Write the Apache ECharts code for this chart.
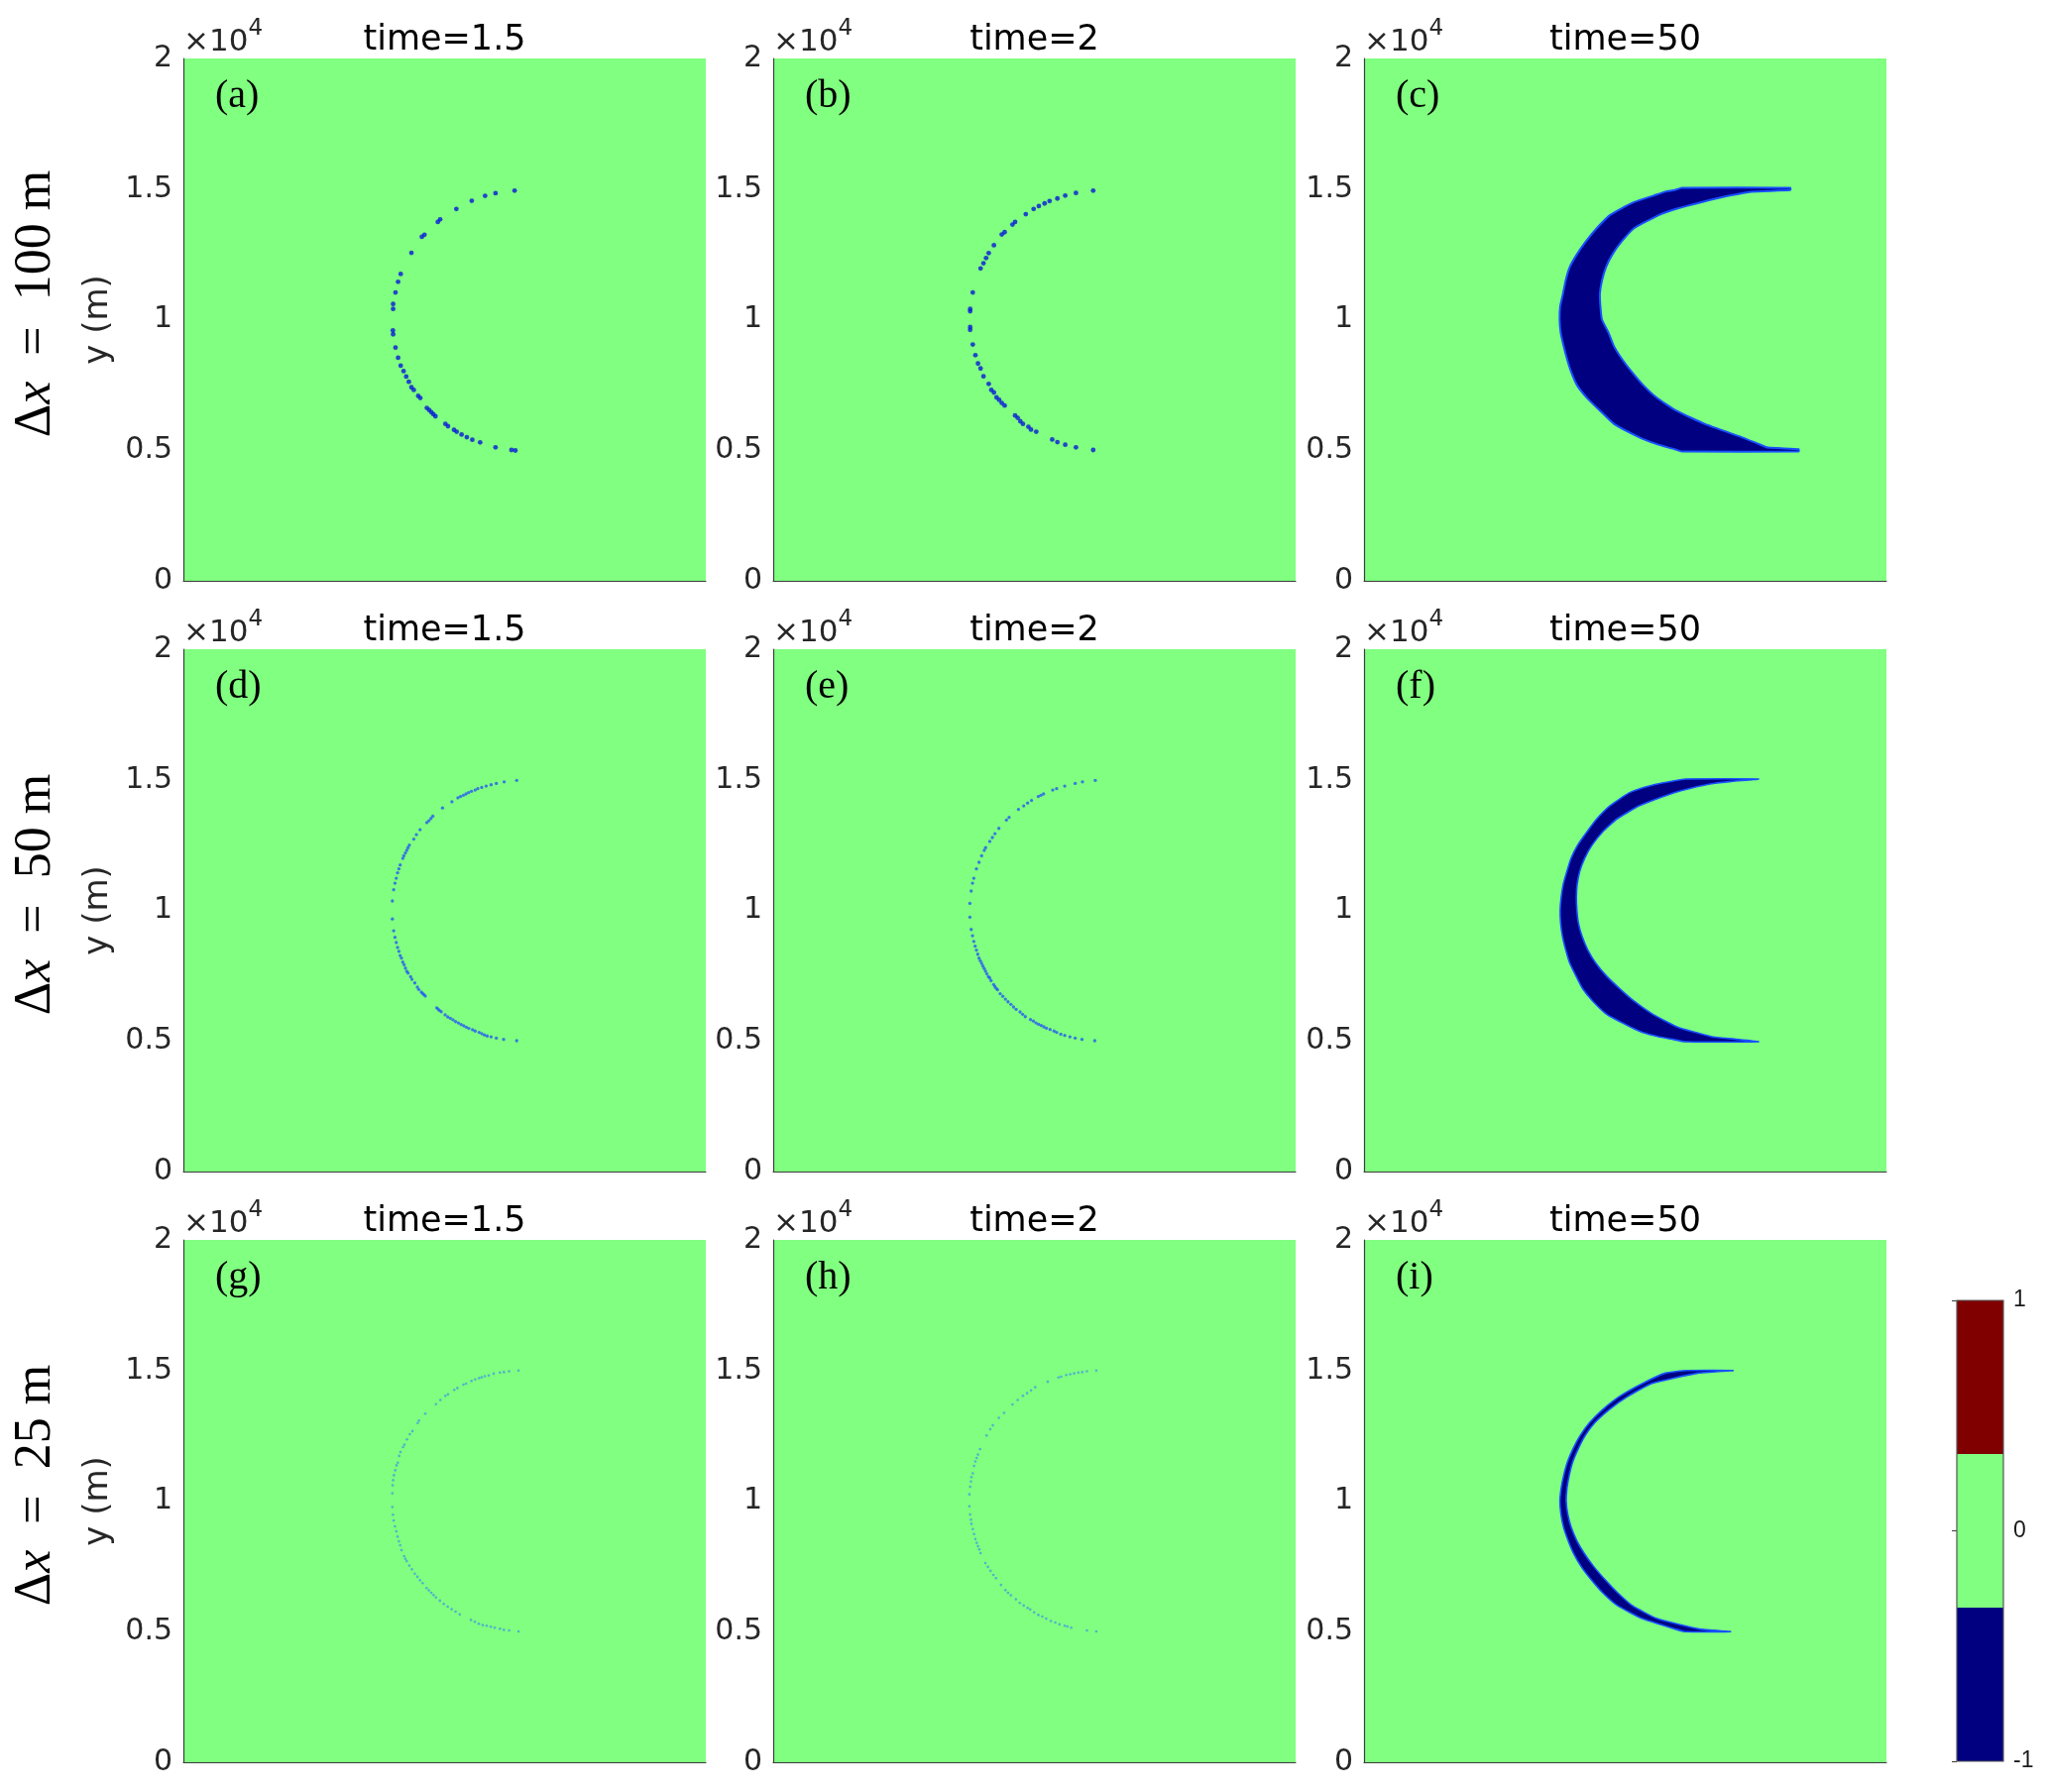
<!DOCTYPE html>
<html>
<head>
<meta charset="utf-8">
<title>level set fronts</title>
<script src="https://cdn.jsdelivr.net/npm/echarts@6.0.0/dist/echarts.min.js"></script>
<style>
  html, body { margin: 0; padding: 0; background: #ffffff; }
  #main { width: 2067px; height: 1808px; }
</style>
</head>
<body>
<div id="main"></div>
<script>
// ---- 标签 ----
var rowSteps = ['100', '50', '25'];
var timeLabels = ['time=1.5', 'time=2', 'time=50'];
var panelLetters = ['(a)', '(b)', '(c)', '(d)', '(e)', '(f)', '(g)', '(h)', '(i)'];
var yMin = 0, yMax = 20000, yStep = 5000;
var cbMin = -1, cbMax = 1;
var cbColors = ['#000080', '#80ff80', '#800000'];

// ---- 点 (x, y) 单位 m ----
var dotsA = [[12680,14940],[11950,14840],[11550,14740],[11040,14550],[10450,14240],[9830,13840],[9740,13740],
  [9230,13250],[9130,13170],[8730,12560],[8320,11750],[8220,11450],[8120,11040],[8030,10600],[8030,10410],
  [8020,9590],[8030,9440],[8120,8930],[8220,8540],[8320,8240],[8430,8030],[8530,7820],[8630,7620],[8730,7410],
  [8820,7310],[8990,7080],[9070,7000],[9320,6620],[9410,6540],[9490,6460],[9570,6380],[9650,6300],[10030,6010],[10130,5920],
  [10360,5780],[10460,5710],[10650,5600],[10850,5500],[11060,5400],[11360,5300],[11950,5110],[12560,5010],[12710,4990]];

var dotsB = [[12250,14940],[11590,14850],[11180,14750],[10880,14640],[10580,14540],[10390,14450],[10170,14350],
  [9970,14240],[9670,14040],[9260,13740],[9160,13640],[8860,13350],[8750,13260],[8450,12850],[8250,12550],
  [8150,12360],[8050,12160],[7940,11960],[7640,11040],[7540,10410],[7540,10320],[7540,9720],[7540,9610],
  [7640,9050],[7740,8640],[7840,8320],[7940,8130],[8050,7830],[8250,7540],[8350,7310],[8450,7210],[8550,7020],
  [8650,6930],[8750,6810],[8860,6710],[9260,6330],[9360,6240],[9460,6110],[9560,6010],[9770,5900],[9870,5790],
  [10070,5710],[10680,5410],[10880,5310],[11180,5210],[11590,5110],[12250,5010]];

var dotsD = [[12760,14980],[12280,14920],[11980,14860],[11780,14810],[11590,14760],[11420,14710],[11270,14660],
  [11170,14610],[11030,14560],[10920,14510],[10820,14460],[10720,14410],[10610,14360],[10510,14310],[10280,14160],
  [9920,13920],[9550,13610],[9480,13520],[9400,13430],[9320,13360],[9060,13090],[8920,12900],[8820,12730],
  [8650,12500],[8600,12400],[8550,12300],[8500,12200],[8440,12090],[8400,11990],[8300,11740],[8250,11590],
  [8200,11440],[8150,11230],[8100,11040],[8050,10790],[8000,10360],[8000,9670],[8050,9220],[8100,8970],
  [8150,8770],[8200,8580],[8250,8430],[8300,8270],[8350,8170],[8400,8020],[8450,7920],[8500,7790],[8550,7670],
  [8600,7600],[8700,7460],[8750,7360],[8860,7220],[8960,7060],[9010,6970],[9110,6870],[9160,6820],[9210,6770],
  [9260,6720],[9700,6270],[9750,6220],[9800,6170],[9870,6120],[10020,6000],[10120,5920],[10220,5870],
  [10320,5810],[10420,5740],[10530,5690],[10630,5630],[10730,5580],[10830,5530],[10930,5480],[11070,5430],
  [11170,5380],[11320,5330],[11420,5280],[11520,5230],[11630,5190],[11780,5160],[11980,5110],[12260,5060],
  [12760,5010]];

var dotsE = [[12330,14980],[11840,14920],[11560,14860],[11160,14760],[10850,14660],[10700,14610],[10350,14460],
  [10250,14410],[10150,14360],[9890,14210],[9740,14110],[9590,14000],[9390,13870],[9030,13560],[8930,13460],
  [8640,13140],[8490,12940],[8390,12790],[8290,12640],[8130,12400],[8080,12300],[7980,12090],[7880,11840],
  [7780,11590],[7680,11230],[7630,11040],[7580,10740],[7530,10270],[7530,9740],[7580,9270],[7630,9030],
  [7680,8810],[7730,8630],[7780,8480],[7830,8320],[7880,8170],[7930,8070],[7980,7970],[8030,7870],[8080,7770],
  [8130,7670],[8180,7570],[8240,7460],[8290,7410],[8340,7310],[8440,7160],[8490,7080],[8540,7010],[8590,6960],
  [8690,6810],[8790,6710],[8890,6600],[8990,6500],[9100,6400],[9200,6300],[9300,6210],[9450,6110],[9550,6020],
  [9650,5930],[9850,5820],[9960,5760],[10060,5690],[10160,5640],[10260,5590],[10360,5540],[10460,5490],
  [10600,5440],[10750,5380],[10850,5330],[11010,5260],[11160,5210],[11360,5160],[11560,5110],[11820,5060],
  [12310,5010]];

var dotsG = [[12830,15000],[12470,14970],[12270,14940],[12120,14920],[11880,14880],[11690,14810],[11540,14780],
  [11420,14740],[11320,14710],[11170,14660],[11030,14600],[10820,14500],[10720,14460],[10490,14330],[10370,14260],
  [10130,14090],[10030,14030],[9840,13870],[9670,13710],[9260,13350],[9020,13080],[8970,12990],[8770,12680],
  [8670,12560],[8560,12360],[8460,12160],[8410,12070],[8310,11880],[8260,11730],[8210,11470],[8160,11370],
  [8110,11180],[8060,10990],[8030,10800],[8010,10610],[8000,10300],[8000,9770],[8020,9480],[8050,9260],
  [8100,9030],[8150,8840],[8200,8640],[8250,8460],[8300,8310],[8350,8120],[8450,7890],[8500,7790],[8550,7700],
  [8650,7530],[8750,7390],[8860,7220],[8960,7100],[9060,6970],[9160,6860],[9310,6670],[9400,6580],[9490,6490],
  [9580,6400],[9670,6310],[9820,6190],[9970,6060],[10120,5960],[10270,5860],[10420,5770],[10580,5660],
  [11010,5450],[11160,5380],[11310,5300],[11460,5250],[11610,5230],[11770,5190],[11920,5150],[12120,5110],
  [12270,5070],[12470,5050],[12830,5010]];

var dotsH = [[12370,15000],[12010,14970],[11830,14940],[11680,14920],[11520,14890],[11370,14860],[11220,14830],
  [11020,14760],[10920,14730],[10510,14570],[10030,14360],[9870,14240],[9720,14130],[9560,14030],[9360,13870],
  [9160,13700],[8840,13380],[8640,13190],[8410,12900],[8310,12750],[8170,12510],[7920,11990],[7840,11780],
  [7790,11650],[7740,11520],[7690,11350],[7640,11060],[7590,10920],[7570,10750],[7540,10550],[7510,10260],
  [7510,9800],[7540,9490],[7570,9290],[7590,9130],[7640,8930],[7690,8740],[7740,8550],[7790,8400],[7840,8270],
  [7890,8150],[7940,8010],[8120,7630],[8220,7480],[8320,7330],[8430,7170],[8530,7050],[8720,6790],[8890,6590],
  [8990,6490],[9100,6390],[9290,6240],[9440,6100],[9590,6000],[9740,5910],[9840,5850],[9990,5740],[10150,5640],
  [10300,5580],[10450,5500],[10630,5410],[10800,5350],[10960,5280],[11160,5230],[11260,5200],[11410,5150],
  [12010,5050],[12370,5010]];

// ---- 月牙: 行 y, 外边界 x, 内边界 x ----
var cresYC = [15050,14960,14900,14750,14500,14250,14000,13500,13000,12500,12000,11500,11000,10500,10000,9500,9000,
  8500,8000,7500,7000,6500,6000,5500,5250,5100,5040,4950];
var cresOuterC = [12170,11900,11540,11090,10340,9840,9410,8910,8500,8150,7870,7720,7620,7510,7490,7530,7640,
  7770,7930,8150,8540,9050,9580,10530,11160,11660,11900,12170];
var cresInnerC = [16320,16320,14830,14000,12930,11980,11280,10340,9870,9510,9260,9110,9030,9050,9110,9360,9560,
  9870,10250,10680,11220,11980,13060,14450,15080,15460,16640,16640];

var cresYF = [15030,14940,14850,14690,14500,14000,13500,13000,12500,12000,11500,11000,10500,10000,9500,9000,
  8500,8000,7500,7000,6500,6000,5500,5330,5160,5070,4970];
var cresOuterF = [12300,11790,11280,10650,10150,9410,8910,8530,8180,7930,7770,7630,7550,7510,7530,7600,
  7720,7870,8110,8370,8780,9320,10270,10650,11280,11790,12300];
var cresInnerF = [15100,14070,13310,12550,11850,10530,9680,9130,8730,8450,8260,8160,8130,8150,8210,8350,
  8560,8860,9270,9790,10370,11090,12070,12680,13310,14190,15100];

var cresYI = [15000,14900,14500,14000,13500,13000,12500,12000,11500,11000,10500,10000,9500,9000,8500,8000,
  7500,7000,6500,6000,5500,5100,5000];
var cresOuterI = [12360,11540,10650,9770,9130,8630,8270,8000,7790,7650,7550,7500,7540,7640,7810,8020,
  8310,8690,9130,9700,10650,11920,12300];
var cresInnerI = [14130,12780,11000,10080,9380,8830,8460,8200,7990,7860,7770,7740,7800,7930,8140,8430,
  8790,9220,9700,10270,11220,12850,14030];

// ---- 布局 ----
var colLeft = [185, 780, 1376];
var rowTop = [59, 655, 1251];
var side = 527;
var tickFont = '"DejaVu Sans", sans-serif';
var serif = '"Liberation Serif", "DejaVu Serif", serif';
var textColor = '#262626';

var panels = [
  { kind: 'dots', data: dotsA, size: 4.8, color: '#0818d8' },
  { kind: 'dots', data: dotsB, size: 4.8, color: '#0818d8' },
  { kind: 'crescent', ys: cresYC, outer: cresOuterC, inner: cresInnerC, line: 2 },
  { kind: 'dots', data: dotsD, size: 3.3, color: '#2458f5' },
  { kind: 'dots', data: dotsE, size: 3.3, color: '#2458f5' },
  { kind: 'crescent', ys: cresYF, outer: cresOuterF, inner: cresInnerF, line: 1.6 },
  { kind: 'dots', data: dotsG, size: 2.6, color: '#45a0dc' },
  { kind: 'dots', data: dotsH, size: 2.6, color: '#45a0dc' },
  { kind: 'crescent', ys: cresYI, outer: cresOuterI, inner: cresInnerI, line: 1.6 }
];

function crescentRender(ys, outer, inner, lw) {
  return function (params, api) {
    var pts = [];
    for (var i = 0; i < ys.length; i++) { pts.push(api.coord([outer[i], ys[i]])); }
    for (var j = ys.length - 1; j >= 0; j--) { pts.push(api.coord([inner[j], ys[j]])); }
    return {
      type: 'polygon',
      shape: { points: pts, smooth: 0.15 },
      style: { fill: '#000080', stroke: '#1650ff', lineWidth: lw, lineJoin: 'round' }
    };
  };
}

var grids = [], xAxes = [], yAxes = [], series = [], graphics = [];

for (var r = 0; r < 3; r++) {
  for (var c = 0; c < 3; c++) {
    var k = r * 3 + c;
    var L = colLeft[c], T = rowTop[r];
    grids.push({
      left: L, top: T, width: side, height: side,
      show: true, backgroundColor: '#80ff80', borderWidth: 0
    });
    xAxes.push({
      gridIndex: k, type: 'value', min: yMin, max: yMax, interval: yStep,
      axisLine: { show: true, lineStyle: { color: '#3c3c3c', width: 1.2 } },
      axisTick: { show: false }, axisLabel: { show: false }, splitLine: { show: false }
    });
    yAxes.push({
      gridIndex: k, type: 'value', min: yMin, max: yMax, interval: yStep,
      name: '{m|×10}{e|4}', nameLocation: 'end', nameGap: 1,
      nameTextStyle: {
        align: 'left', verticalAlign: 'bottom', color: textColor,
        rich: {
          m: { fontFamily: tickFont, fontSize: 31, color: textColor, lineHeight: 40, verticalAlign: 'bottom' },
          e: { fontFamily: tickFont, fontSize: 23, color: textColor, lineHeight: 24, verticalAlign: 'top' }
        }
      },
      axisLine: { show: true, lineStyle: { color: '#3c3c3c', width: 1.2 } },
      axisTick: { show: false },
      splitLine: { show: false },
      axisLabel: {
        margin: 11, color: textColor, fontFamily: tickFont, fontSize: 30,
        formatter: function (v) { return String(v / 10000); }
      }
    });
    if (c === 0) {
      graphics.push({
        type: 'text', x: 99, y: T + side / 2, rotation: Math.PI / 2,
        style: { text: 'y (m)', font: '34px ' + tickFont, fill: textColor,
          align: 'center', verticalAlign: 'middle', textAlign: 'center', textVerticalAlign: 'middle' }
      });
      graphics.push({
        type: 'text', x: 36, y: T + side / 2 - 16, rotation: Math.PI / 2,
        style: {
          text: '{r|Δ}{i|x}{r|  =  ' + rowSteps[r] + ' m}',
          align: 'center', verticalAlign: 'middle', textAlign: 'center', textVerticalAlign: 'middle',
          rich: {
            r: { fontFamily: serif, fontSize: 52, fill: '#000000', color: '#000000' },
            i: { fontFamily: serif, fontSize: 52, fontStyle: 'italic', fill: '#000000', color: '#000000' }
          }
        }
      });
    }
    graphics.push({
      type: 'text', x: L + side / 2, y: T - 18,
      style: { text: timeLabels[c], font: '35px ' + tickFont, fill: '#000000',
        align: 'center', verticalAlign: 'middle', textAlign: 'center', textVerticalAlign: 'middle' }
    });
    graphics.push({
      type: 'text', x: L + 32, y: T + 38,
      style: { text: panelLetters[k], font: '40px ' + serif, fill: '#000000',
        align: 'left', verticalAlign: 'middle', textAlign: 'left', textVerticalAlign: 'middle' }
    });

    var p = panels[k];
    if (p.kind === 'dots') {
      series.push({
        type: 'scatter', xAxisIndex: k, yAxisIndex: k, data: p.data,
        symbol: 'circle', symbolSize: p.size, itemStyle: { color: p.color },
        silent: true, animation: false
      });
    } else {
      series.push({
        type: 'custom', xAxisIndex: k, yAxisIndex: k, data: [[0, 0]],
        renderItem: crescentRender(p.ys, p.outer, p.inner, p.line),
        clip: true, silent: true, animation: false
      });
    }
  }
}

// ---- 色条 ----
grids.push({ left: 1974, top: 1312, width: 47, height: 465, show: false });
xAxes.push({ gridIndex: 9, type: 'value', min: 0, max: 1, show: false });
yAxes.push({
  gridIndex: 9, type: 'value', min: cbMin, max: cbMax, interval: 1, position: 'right',
  axisLine: { show: false },
  axisTick: { show: true, inside: true, length: 5, lineStyle: { color: '#3c3c3c' } },
  splitLine: { show: false },
  axisLabel: { margin: 10, color: '#1a1a1a', fontFamily: '"Liberation Sans", Arial, sans-serif', fontSize: 23 }
});
series.push({
  type: 'custom', xAxisIndex: 9, yAxisIndex: 9, z: 1,
  data: cbColors.map(function (col, i) { return [i]; }),
  renderItem: function (params, api) {
    var i = params.dataIndex, n = cbColors.length, step = (cbMax - cbMin) / n;
    var p0 = api.coord([0, cbMin + i * step]);
    var p1 = api.coord([1, cbMin + (i + 1) * step]);
    return { type: 'rect', shape: { x: p0[0], y: p1[1], width: p1[0] - p0[0], height: p0[1] - p1[1] },
      style: { fill: cbColors[i] } };
  },
  silent: true, animation: false
});
series.push({
  type: 'custom', xAxisIndex: 9, yAxisIndex: 9, z: 3, data: [[0]],
  renderItem: function (params, api) {
    var a = api.coord([0, cbMin]), b = api.coord([1, cbMax]);
    return { type: 'rect', shape: { x: a[0], y: b[1], width: b[0] - a[0], height: a[1] - b[1] },
      style: { fill: null, stroke: '#555555', lineWidth: 1.2 } };
  },
  silent: true, animation: false
});

var chart = echarts.init(document.getElementById('main'), null, { renderer: 'canvas' });
chart.setOption({
  backgroundColor: '#ffffff',
  animation: false,
  grid: grids,
  xAxis: xAxes,
  yAxis: yAxes,
  series: series,
  graphic: { elements: graphics }
});
</script>
</body>
</html>
